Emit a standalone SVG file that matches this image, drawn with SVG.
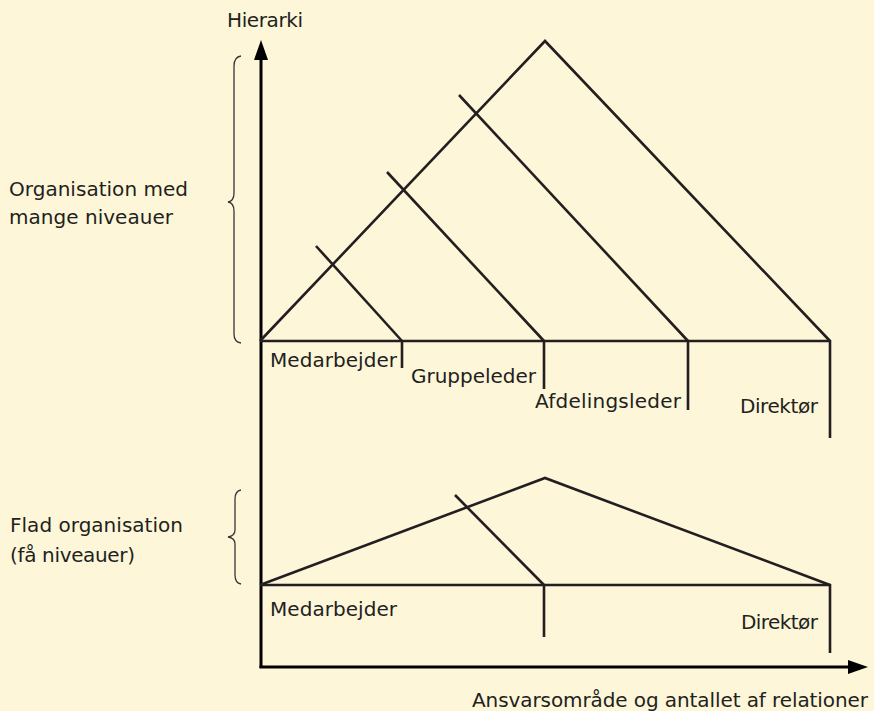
<svg xmlns="http://www.w3.org/2000/svg" width="874" height="711" viewBox="0 0 874 711">
  <style>
    .ln { stroke: #231f20; stroke-width: 2.6; fill: none; stroke-linecap: butt; stroke-linejoin: miter; }
    .ax { stroke: #000; stroke-width: 3; fill: none; }
    .br { stroke: #3a3536; stroke-width: 1.3; fill: none; }
    text { font-family: "DejaVu Sans", "Liberation Sans", sans-serif; font-size: 20px; fill: #231f20; }
  </style>
  <defs>
    <marker id="arrow" markerUnits="userSpaceOnUse" markerWidth="20" markerHeight="14" refX="0" refY="7" orient="auto">
      <path d="M0,0 L20,7 L0,14 z" fill="#000"/>
    </marker>
  </defs>
  <rect x="0" y="0" width="874" height="711" fill="#fdf6d9"/>

  <g id="axes">
    <line class="ax" x1="261" y1="668" x2="261" y2="60" marker-end="url(#arrow)"/>
    <line class="ax" x1="259.5" y1="667" x2="848" y2="667" marker-end="url(#arrow)"/>
    <text id="y-label" x="227" y="27" textLength="76" lengthAdjust="spacing">Hierarki</text>
    <text id="x-label" x="472" y="707" textLength="396" lengthAdjust="spacing">Ansvarsområde og antallet af relationer</text>
  </g>

  <g id="braces">
    <path class="br" d="M241,56 Q234,57 234,66 L234,193 Q234,201 228,202 Q234,203 234,211 L234,334 Q234,342 241,343"/>
    <path class="br" d="M241,490 Q235,491 235,499 L235,530 Q235,536 228,537 Q235,538 235,544 L235,575 Q235,583 241,584"/>
  </g>

  <g id="side-labels">
    <text x="9" y="196" textLength="179" lengthAdjust="spacing">Organisation med</text>
    <text x="9" y="224" textLength="164" lengthAdjust="spacing">mange niveauer</text>
    <text x="10" y="532" textLength="173" lengthAdjust="spacing">Flad organisation</text>
    <text x="10" y="562" textLength="125" lengthAdjust="spacing">(få niveauer)</text>
  </g>

  <g id="connectors">
    <g id="tall-hierarchy">
      <polyline class="ln" points="260,341 545,41 830,341"/>
      <line class="ln" x1="260" y1="341" x2="831" y2="341"/>
      <line class="ln" x1="316" y1="246" x2="402" y2="341"/>
      <line class="ln" x1="387" y1="172" x2="544" y2="341"/>
      <line class="ln" x1="459" y1="95" x2="688" y2="341"/>
      <line class="ln" x1="402" y1="340" x2="402" y2="368"/>
      <line class="ln" x1="544" y1="340" x2="544" y2="389"/>
      <line class="ln" x1="688" y1="340" x2="688" y2="410"/>
      <line class="ln" x1="830" y1="340" x2="830" y2="438"/>
    </g>
    <g id="flat-hierarchy">
      <polyline class="ln" points="260,585 545,478 830,585"/>
      <line class="ln" x1="260" y1="585" x2="831" y2="585"/>
      <line class="ln" x1="455" y1="495" x2="544" y2="585"/>
      <line class="ln" x1="544" y1="584" x2="544" y2="637"/>
      <line class="ln" x1="830" y1="584" x2="830" y2="653"/>
    </g>
  </g>

  <g id="node-medarbejder-1"><text x="270" y="367" textLength="127" lengthAdjust="spacing">Medarbejder</text></g>
  <g id="node-gruppeleder"><text x="411" y="383" textLength="125" lengthAdjust="spacing">Gruppeleder</text></g>
  <g id="node-afdelingsleder"><text x="535" y="408" textLength="146" lengthAdjust="spacing">Afdelingsleder</text></g>
  <g id="node-direktoer-1"><text x="740" y="413" textLength="78" lengthAdjust="spacing">Direktør</text></g>
  <g id="node-medarbejder-2"><text x="270" y="616" textLength="127" lengthAdjust="spacing">Medarbejder</text></g>
  <g id="node-direktoer-2"><text x="741" y="629" textLength="77" lengthAdjust="spacing">Direktør</text></g>
</svg>
